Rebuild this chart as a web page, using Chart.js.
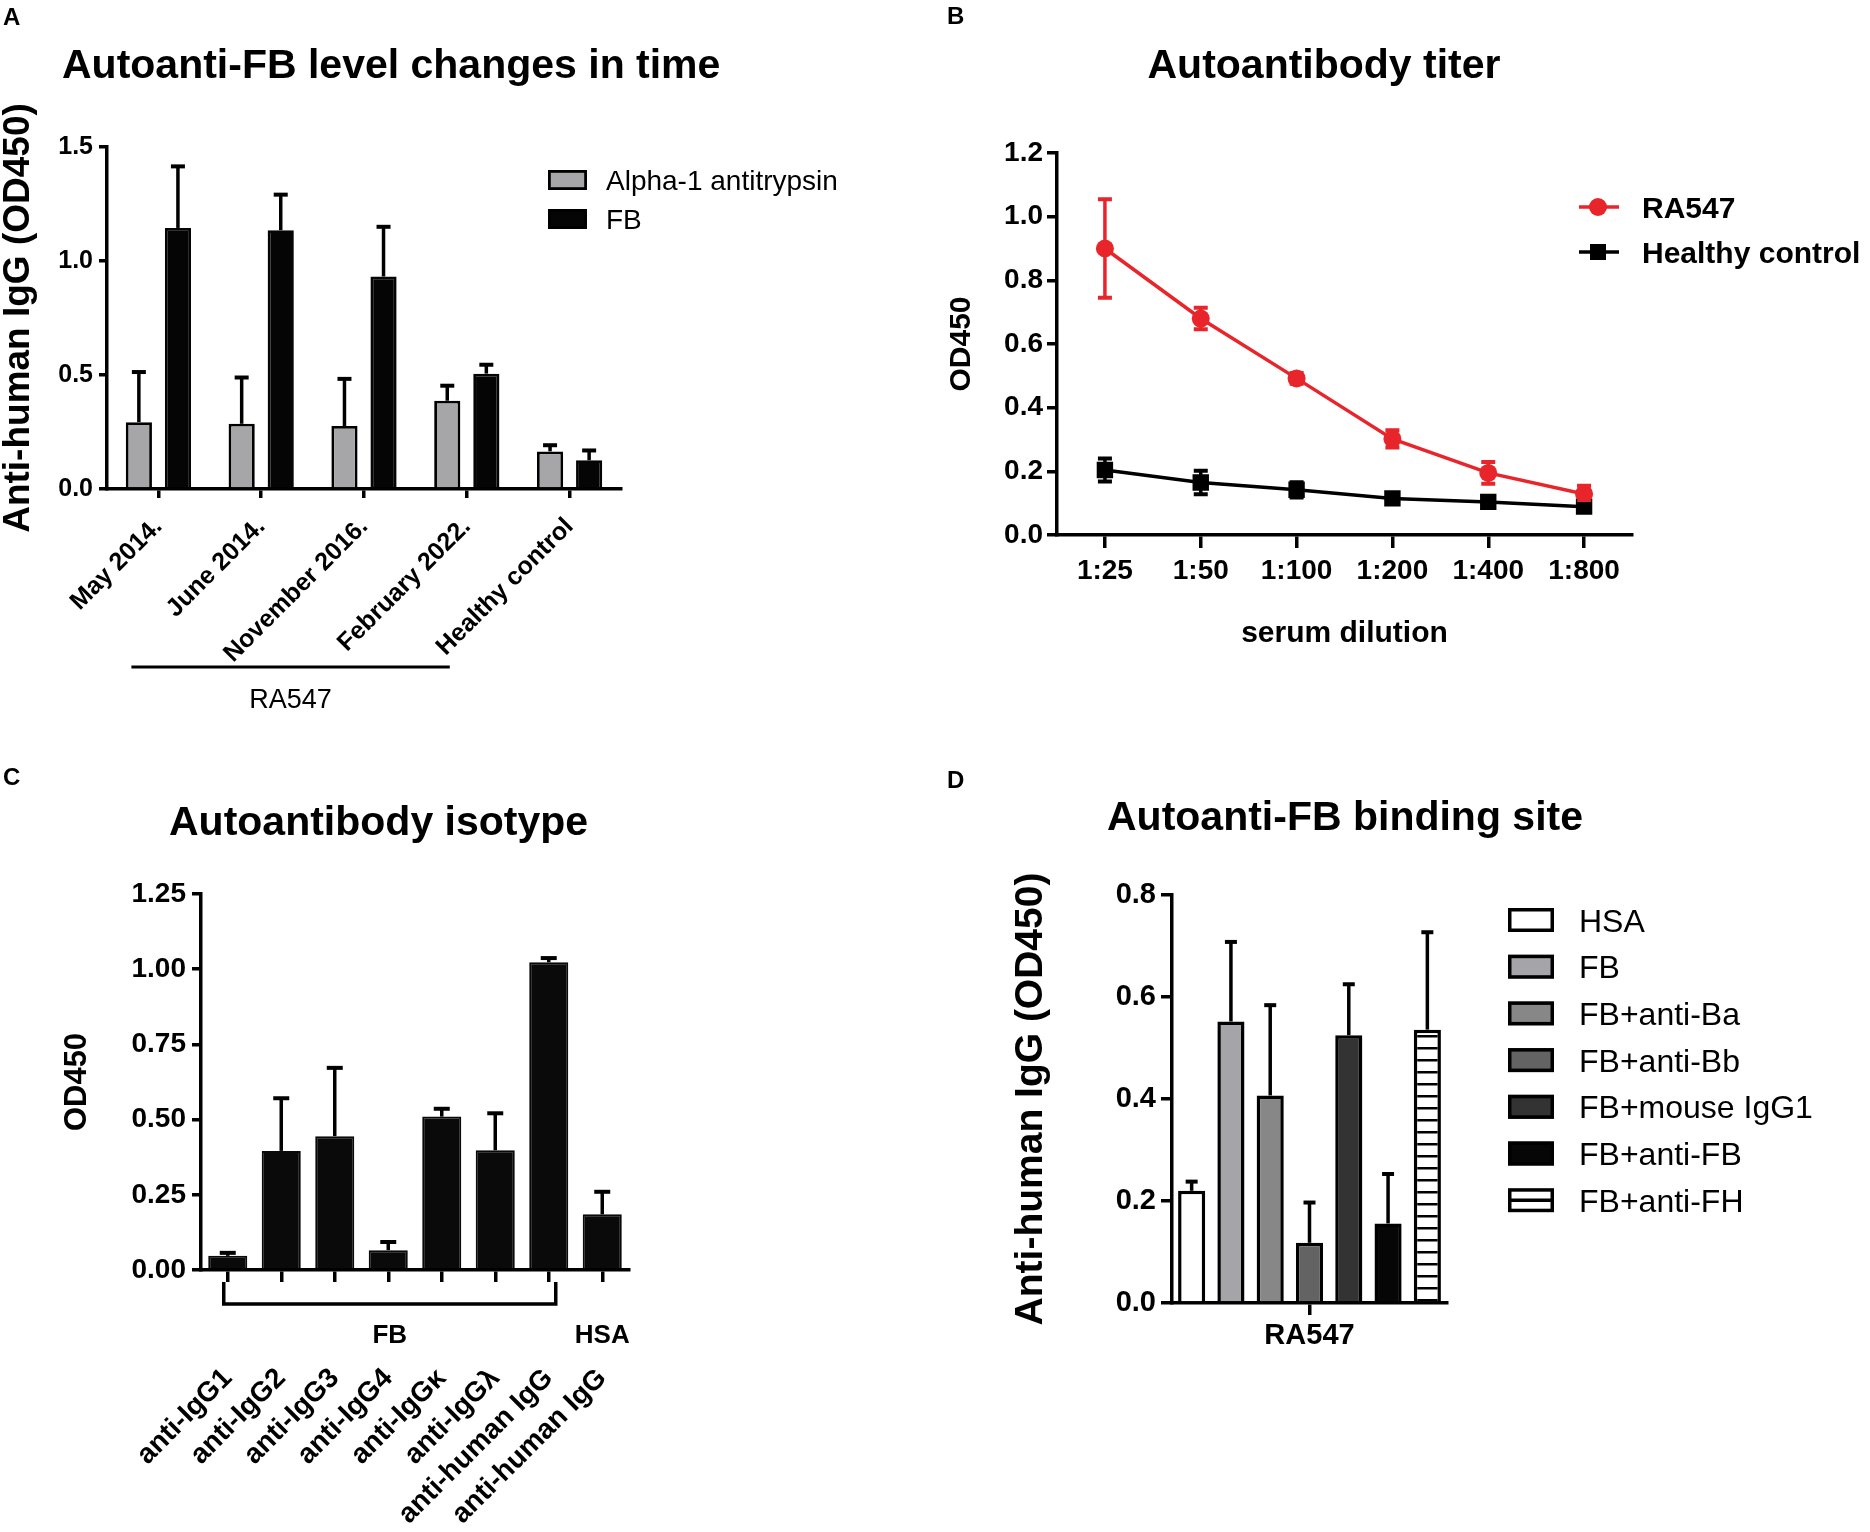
<!DOCTYPE html>
<html>
<head>
<meta charset="utf-8">
<script src="https://cdn.jsdelivr.net/npm/chart.js@4.4.1/dist/chart.umd.min.js"></script>
<style>
  body { margin: 0; background: #fff; width: 1870px; height: 1532px; overflow: hidden; position: relative; }
  canvas { position: absolute; }
</style>
</head>
<body>
<canvas id="chartA" width="935" height="766" style="left:0;top:0"></canvas>
<canvas id="chartB" width="935" height="766" style="left:935px;top:0"></canvas>
<canvas id="chartC" width="935" height="766" style="left:0;top:766px"></canvas>
<canvas id="chartD" width="935" height="766" style="left:935px;top:766px"></canvas>
<script>
const FONT = '"Liberation Sans", Arial, Helvetica, sans-serif';

// A - autoanti-FB over time
const timeLabels = ['May 2014.', 'June 2014.', 'November 2016.', 'February 2022.', 'Healthy control'];
const a1atMean = [0.293, 0.286, 0.276, 0.387, 0.165];
const a1atErr = [0.220, 0.203, 0.207, 0.066, 0.027];
const fbMean = [1.145, 1.135, 0.932, 0.506, 0.126];
const fbErr = [0.270, 0.156, 0.218, 0.039, 0.043];

// B - titer
const dilutionLabels = ['1:25', '1:50', '1:100', '1:200', '1:400', '1:800'];
const ra547Mean = [0.900, 0.680, 0.492, 0.302, 0.195, 0.129];
const ra547Err = [0.155, 0.034, 0.017, 0.027, 0.034, 0.026];
const healthyMean = [0.204, 0.165, 0.142, 0.115, 0.104, 0.089];
const healthyErr = [0.036, 0.037, 0.024, 0.012, 0.010, 0.008];

// C - isotype
const isotypeLabels = ['anti-IgG1', 'anti-IgG2', 'anti-IgG3', 'anti-IgG4', 'anti-IgGκ', 'anti-IgGλ', 'anti-human IgG', 'anti-human IgG'];
const isotypeMean = [0.047, 0.396, 0.445, 0.066, 0.510, 0.398, 1.023, 0.185];
const isotypeErr = [0.010, 0.175, 0.227, 0.027, 0.026, 0.123, 0.014, 0.075];

// D - binding site
const siteGroup = ['RA547'];
const siteLabels = ['HSA', 'FB', 'FB+anti-Ba', 'FB+anti-Bb', 'FB+mouse IgG1', 'FB+anti-FB', 'FB+anti-FH'];
const siteMean = [0.220, 0.552, 0.407, 0.118, 0.525, 0.156, 0.536];
const siteErr = [0.018, 0.156, 0.177, 0.079, 0.100, 0.097, 0.191];
const siteColors = ['#ffffff', '#a5a5a9', '#878787', '#636363', '#333333', '#060606', 'hatch'];

Chart.defaults.font.family = FONT;
Chart.defaults.color = '#000';

// error bars drawn from the dataset's own errors array
const errorBarPlugin = {
  id: 'errorBars',
  defaults: { lineWidth: 3.5, capWidth: 4, cap: 7, both: false },
  afterDatasetsDraw(chart, args, opts) {
    const ctx = chart.ctx;
    const y = chart.scales.y;
    chart.data.datasets.forEach((ds, i) => {
      if (!ds.errors) return;
      const meta = chart.getDatasetMeta(i);
      ctx.save();
      ctx.strokeStyle = ds.errorColor || '#000';
      meta.data.forEach((el, j) => {
        const v = ds.data[j], e = ds.errors[j];
        const yTop = y.getPixelForValue(v + e);
        const yBot = opts.both ? y.getPixelForValue(v - e) : el.y;
        ctx.lineWidth = opts.lineWidth;
        ctx.beginPath();
        ctx.moveTo(el.x, yBot);
        ctx.lineTo(el.x, yTop);
        ctx.stroke();
        ctx.lineWidth = opts.capWidth;
        ctx.beginPath();
        ctx.moveTo(el.x - opts.cap, yTop);
        ctx.lineTo(el.x + opts.cap, yTop);
        if (opts.both) {
          ctx.moveTo(el.x - opts.cap, yBot);
          ctx.lineTo(el.x + opts.cap, yBot);
        }
        ctx.stroke();
      });
      ctx.restore();
    });
  }
};
Chart.register(errorBarPlugin);

function txt(ctx, s, x, y, size, weight, align) {
  ctx.save();
  ctx.font = `${weight} ${size}px ${FONT}`;
  ctx.fillStyle = '#000';
  ctx.textAlign = align || 'left';
  ctx.textBaseline = 'alphabetic';
  ctx.fillText(s, x, y);
  ctx.restore();
}

function yAxis(o) {
  return {
    min: o.min, max: o.max,
    border: { display: true, color: '#000', width: 3.5 },
    grid: { drawOnChartArea: false, drawTicks: true, tickLength: o.tick, color: '#000', lineWidth: 3.5 },
    ticks: { stepSize: o.step, padding: o.pad, font: { size: o.size, weight: 'bold' },
             callback: v => Number(v).toFixed(o.dec) },
    title: { display: true, text: o.title, font: { size: o.titleSize, weight: 'bold', lineHeight: 1 },
             padding: { top: o.titlePad, bottom: 0 } },
    afterFit: s => { s.width = o.left; }
  };
}

function xAxis(o) {
  return {
    type: 'category', offset: true,
    border: { display: true, color: '#000', width: 3.5 },
    grid: { offset: false, drawOnChartArea: false, drawTicks: true, tickLength: o.tick, color: '#000', lineWidth: 3.5 },
    ticks: { autoSkip: false, minRotation: o.rot, maxRotation: o.rot, padding: o.pad,
             font: { size: o.size, weight: 'bold' } },
    title: o.title ? { display: true, text: o.title, font: { size: o.titleSize, weight: 'bold', lineHeight: 1 },
                       padding: { top: 0, bottom: o.titlePad } } : { display: false },
    afterFit: s => { s.height = 766 - o.bottom; }
  };
}

function baseOptions(area) {
  return {
    responsive: false,
    animation: false,
    events: [],
    layout: { padding: { left: 0, top: area.top, right: 935 - area.right, bottom: 0 } },
    plugins: { legend: { display: false }, tooltip: { enabled: false } }
  };
}

// ---------- A ----------
const optA = baseOptions({ top: 147, right: 621 });
optA.plugins.errorBars = { cap: 7 };
optA.scales = {
  x: xAxis({ tick: 9, rot: 45, pad: 14, size: 25, bottom: 489 }),
  y: yAxis({ min: 0, max: 1.5, step: 0.5, dec: 1, tick: 8, pad: 6, size: 25, left: 107,
             title: 'Anti-human IgG (OD450)', titleSize: 37, titlePad: 0 })
};
new Chart(document.getElementById('chartA'), {
  type: 'bar',
  data: {
    labels: timeLabels,
    datasets: [
      { label: 'Alpha-1 antitrypsin', data: a1atMean, errors: a1atErr, backgroundColor: '#a6a6a9',
        borderColor: '#000', borderWidth: 2.8, categoryPercentage: 0.76, barPercentage: 0.67 },
      { label: 'FB', data: fbMean, errors: fbErr, backgroundColor: '#050505',
        borderColor: '#050505', borderWidth: 2.8, categoryPercentage: 0.76, barPercentage: 0.67 }
    ]
  },
  options: optA,
  plugins: [{
    id: 'decorA',
    afterDraw(chart) {
      const ctx = chart.ctx;
      txt(ctx, 'A', 3, 25, 24, 'bold');
      txt(ctx, 'Autoanti-FB level changes in time', 62, 78, 41, 'bold');
      chart.data.datasets.forEach((ds, i) => {
        const cy = 180 + i * 39;
        ctx.save();
        ctx.fillStyle = ds.backgroundColor;
        ctx.fillRect(548, cy - 10, 39, 20);
        ctx.strokeStyle = '#000';
        ctx.lineWidth = 2.8;
        ctx.strokeRect(549.4, cy - 8.6, 36.2, 17.2);
        ctx.restore();
        txt(ctx, ds.label, 606, cy + 10, 28, 'normal');
      });
      const x = chart.scales.x;
      const x0 = x.getPixelForValue(0) - 27, x1 = x.getPixelForValue(3) - 17;
      ctx.save();
      ctx.strokeStyle = '#000';
      ctx.lineWidth = 3;
      ctx.beginPath();
      ctx.moveTo(x0, 667);
      ctx.lineTo(x1, 667);
      ctx.stroke();
      ctx.restore();
      txt(ctx, 'RA547', (x0 + x1) / 2, 708, 27, 'normal', 'center');
    }
  }]
});

// ---------- B ----------
const RED = '#e8252b';
const optB = baseOptions({ top: 153, right: 697 });
optB.plugins.errorBars = { cap: 7, both: true };
optB.scales = {
  x: xAxis({ tick: 13, rot: 0, pad: 6, size: 28, bottom: 535,
             title: 'serum dilution', titleSize: 30, titlePad: 117 }),
  y: yAxis({ min: 0, max: 1.2, step: 0.2, dec: 1, tick: 10, pad: 4, size: 28, left: 122,
             title: 'OD450', titleSize: 30, titlePad: 12 })
};
new Chart(document.getElementById('chartB'), {
  type: 'line',
  data: {
    labels: dilutionLabels,
    datasets: [
      { label: 'RA547', data: ra547Mean, errors: ra547Err, errorColor: RED, borderColor: RED,
        backgroundColor: RED, borderWidth: 3.5, tension: 0, pointStyle: 'circle', pointRadius: 9,
        pointBorderWidth: 0 },
      { label: 'Healthy control', data: healthyMean, errors: healthyErr, errorColor: '#000',
        borderColor: '#000', backgroundColor: '#000', borderWidth: 3.5, tension: 0, pointStyle: 'rect',
        pointRadius: 11.6, pointBorderWidth: 0 }
    ]
  },
  options: optB,
  plugins: [{
    id: 'decorB',
    afterDraw(chart) {
      const ctx = chart.ctx;
      txt(ctx, 'B', 12, 24, 24, 'bold');
      txt(ctx, 'Autoantibody titer', 389, 78, 41, 'bold', 'center');
      chart.data.datasets.forEach((ds, i) => {
        const cy = 207 + i * 45;
        ctx.save();
        ctx.strokeStyle = ds.borderColor;
        ctx.fillStyle = ds.borderColor;
        ctx.lineWidth = 3.5;
        ctx.beginPath();
        ctx.moveTo(644, cy);
        ctx.lineTo(684, cy);
        ctx.stroke();
        if (ds.pointStyle === 'circle') {
          ctx.beginPath();
          ctx.arc(663, cy, 9, 0, Math.PI * 2);
          ctx.fill();
        } else {
          ctx.fillRect(655, cy - 8, 16, 16);
        }
        ctx.restore();
        txt(ctx, ds.label, 707, cy + 11, 30, 'bold');
      });
    }
  }]
});

// ---------- C ----------
const optC = baseOptions({ top: 128, right: 629 });
optC.plugins.errorBars = { cap: 8 };
optC.scales = {
  x: xAxis({ tick: 12, rot: 45, pad: 80, size: 28, bottom: 504 }),
  y: yAxis({ min: 0, max: 1.25, step: 0.25, dec: 2, tick: 9, pad: 6, size: 28, left: 201,
             title: 'OD450', titleSize: 31, titlePad: 62 })
};
new Chart(document.getElementById('chartC'), {
  type: 'bar',
  data: {
    labels: isotypeLabels,
    datasets: [
      { label: 'isotype', data: isotypeMean, errors: isotypeErr, backgroundColor: '#0a0a0a',
        borderColor: '#0a0a0a', borderWidth: 2, categoryPercentage: 1, barPercentage: 0.73 }
    ]
  },
  options: optC,
  plugins: [{
    id: 'decorC',
    afterDraw(chart) {
      const ctx = chart.ctx;
      txt(ctx, 'C', 3, 19, 24, 'bold');
      txt(ctx, 'Autoantibody isotype', 169, 69, 41, 'bold');
      const x = chart.scales.x;
      const b = chart.chartArea.bottom;
      const x0 = x.getPixelForValue(0) - 4, x1 = x.getPixelForValue(6) + 7;
      ctx.save();
      ctx.strokeStyle = '#000';
      ctx.lineWidth = 3.5;
      ctx.beginPath();
      ctx.moveTo(x0, b + 12);
      ctx.lineTo(x0, b + 34);
      ctx.lineTo(x1, b + 34);
      ctx.lineTo(x1, b + 12);
      ctx.stroke();
      ctx.restore();
      txt(ctx, 'FB', (x0 + x1) / 2, b + 73, 26, 'bold', 'center');
      txt(ctx, 'HSA', x.getPixelForValue(7), b + 73, 26, 'bold', 'center');
    }
  }]
});

// ---------- D ----------
const ctxD = document.getElementById('chartD').getContext('2d');
function hatch() {
  const c = document.createElement('canvas');
  c.width = 8; c.height = 12;
  const g = c.getContext('2d');
  g.fillStyle = '#fff';
  g.fillRect(0, 0, 8, 12);
  g.fillStyle = '#000';
  g.fillRect(0, 5, 8, 2.5);
  return ctxD.createPattern(c, 'repeat');
}
const hatchFill = hatch();
const optD = baseOptions({ top: 129, right: 512 });
optD.plugins.errorBars = { cap: 6 };
optD.scales = {
  x: xAxis({ tick: 12, rot: 0, pad: 4, size: 29, bottom: 537 }),
  y: yAxis({ min: 0, max: 0.8, step: 0.2, dec: 1, tick: 11, pad: 5, size: 29, left: 237,
             title: 'Anti-human IgG (OD450)', titleSize: 39, titlePad: 77 })
};
new Chart(ctxD, {
  type: 'bar',
  data: {
    labels: siteGroup,
    datasets: siteLabels.map((name, i) => ({
      label: name,
      data: [siteMean[i]],
      errors: [siteErr[i]],
      backgroundColor: siteColors[i] === 'hatch' ? hatchFill : siteColors[i],
      hatched: siteColors[i] === 'hatch',
      borderColor: '#000',
      borderWidth: 3.5,
      categoryPercentage: 1,
      barPercentage: 0.69
    }))
  },
  options: optD,
  plugins: [{
    id: 'decorD',
    afterDraw(chart) {
      const ctx = chart.ctx;
      txt(ctx, 'D', 12, 22, 24, 'bold');
      txt(ctx, 'Autoanti-FB binding site', 172, 64, 41, 'bold');
      chart.data.datasets.forEach((ds, i) => {
        const cy = 154 + i * 46.7;
        ctx.save();
        ctx.fillStyle = ds.hatched ? '#fff' : ds.backgroundColor;
        ctx.fillRect(573, cy - 12, 46, 24);
        ctx.strokeStyle = '#000';
        ctx.lineWidth = 3.5;
        ctx.strokeRect(574.75, cy - 10.25, 42.5, 20.5);
        if (ds.hatched) {
          ctx.beginPath();
          ctx.moveTo(574, cy);
          ctx.lineTo(618, cy);
          ctx.stroke();
        }
        ctx.restore();
        txt(ctx, ds.label, 644, cy + 11.5, 32, 'normal');
      });
    }
  }]
});
</script>
</body>
</html>
